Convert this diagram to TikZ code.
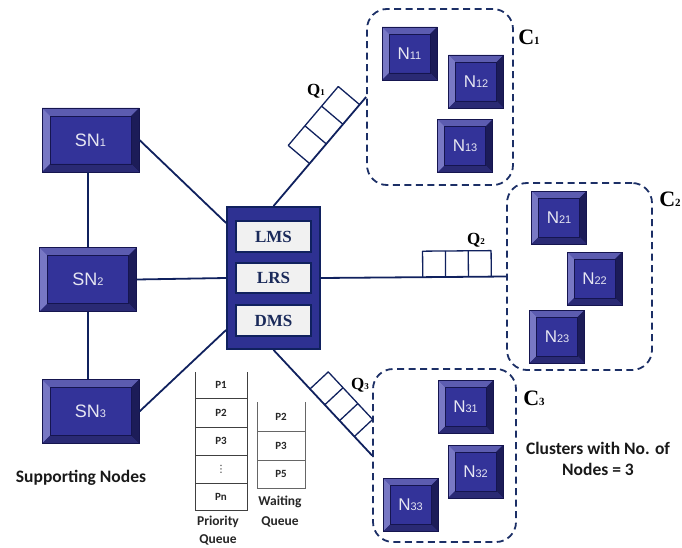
\documentclass[tikz,border=0pt]{standalone}
\usepackage{fontspec}
\setmainfont{Liberation Serif}
\newfontfamily\arialf{Liberation Sans}
\newfontfamily\calibf{Carlito}
\newfontfamily\dejavuf{DejaVu Sans}
\usetikzlibrary{calc}
\definecolor{bevF}{HTML}{333399}
\definecolor{bevO}{HTML}{15154F}
\definecolor{bevT}{HTML}{5C5CB0}
\definecolor{bevL}{HTML}{7878C4}
\definecolor{bevR}{HTML}{1C1C58}
\definecolor{bevB}{HTML}{2A2A74}
\definecolor{bevTx}{HTML}{E6E6F2}
\definecolor{navyL}{HTML}{10215E}
\definecolor{dashC}{HTML}{1C2F66}
\definecolor{lmF}{HTML}{2E3192}
\definecolor{boxF}{HTML}{F1F1F1}
\definecolor{txtN}{HTML}{1A2A5A}
\newcommand\sdig[1]{{\fontsize{11}{12}\selectfont #1}}
\newcommand\qstrip[5]{%
  \coordinate (qs0) at ($(#1)!#3!(#2)$);
  \coordinate (qs1) at ($(#1)!#4!(#2)$);
  \draw[qline] (qs0) -- ($(qs0)!#5!90:(qs1)$) -- ($(qs1)!#5!-90:(qs0)$) -- (qs1);
  \foreach \f in {0.3333,0.6667} {
    \coordinate (qsm) at ($(qs0)!\f!(qs1)$);
    \draw[qline] (qsm) -- ($(qsm)!#5!90:(qs1)$);
  }%
}
\begin{document}
\begin{tikzpicture}[x=1pt,y=-1pt,
  bevw/.store in=\bevw, bevw=7pt,
  bevbox/.style={draw=bevO, line width=0.9pt, fill=bevF, text=bevTx, inner sep=0pt,
    font=\arialf\fontsize{17}{19}\selectfont,
    path picture={
      \coordinate (pnw) at (path picture bounding box.north west);
      \coordinate (pne) at (path picture bounding box.north east);
      \coordinate (psw) at (path picture bounding box.south west);
      \coordinate (pse) at (path picture bounding box.south east);
      \fill[bevT] (pnw) -- (pne) -- ([shift={(-\bevw,-\bevw)}]pne) -- ([shift={(\bevw,-\bevw)}]pnw) -- cycle;
      \fill[bevL] (pnw) -- (psw) -- ([shift={(\bevw,\bevw)}]psw) -- ([shift={(\bevw,-\bevw)}]pnw) -- cycle;
      \fill[bevR] (pne) -- (pse) -- ([shift={(-\bevw,\bevw)}]pse) -- ([shift={(-\bevw,-\bevw)}]pne) -- cycle;
      \fill[bevB] (psw) -- (pse) -- ([shift={(-\bevw,\bevw)}]pse) -- ([shift={(\bevw,\bevw)}]psw) -- cycle;
      \draw[bevO, line width=0.5pt] ([shift={(\bevw,-\bevw)}]pnw) rectangle ([shift={(-\bevw,\bevw)}]pse);
    }},
  snbox/.style={bevbox, bevw=8pt, minimum width=97pt, minimum height=64pt, font=\arialf\fontsize{18}{20}\selectfont},
  nbox/.style={bevbox, minimum width=55pt, minimum height=53pt},
  cluster/.style={draw=dashC, line width=1.8pt, dash pattern=on 7pt off 4.5pt, rounded corners=20pt, inner sep=0pt},
  conn/.style={draw=navyL, line width=1.8pt},
  thinconn/.style={draw=navyL, line width=1.2pt},
  qline/.style={draw=navyL, line width=1.3pt, line join=round},
  inbox/.style={draw=navyL, line width=1.2pt, fill=boxF, minimum width=75pt, minimum height=31pt, inner sep=0pt, text=txtN, font=\bfseries\fontsize{17}{18}\selectfont},
  qlab/.style={inner sep=0pt, font=\bfseries\fontsize{17}{18}\selectfont},
  clab/.style={inner sep=0pt, font=\bfseries\fontsize{22}{24}\selectfont},
  cbtext/.style={inner sep=0pt, font=\calibf\bfseries\fontsize{17.5}{20}\selectfont, text=black!90},
  qtext/.style={inner sep=0pt, font=\calibf\bfseries\fontsize{13.5}{16}\selectfont, text=black!85},
  ptext/.style={inner sep=0pt, font=\calibf\bfseries\fontsize{11}{12}\selectfont, text=black!85},
  pq/.style={draw=black!75, line width=1pt},
  wq/.style={draw=black!60, line width=1pt}
]
\useasboundingbox (0,0) rectangle (682,548);

% central box
\node[draw=navyL, line width=1.8pt, fill=lmF, minimum width=93pt, minimum height=142pt, inner sep=0pt] (lm) at (273.5,278) {};
\node[inbox] (lms) at (273.5,236.5) {LMS};
\node[inbox, minimum height=30pt] (lrs) at (273.5,278) {LRS};
\node[inbox] (dms) at (273.5,320.5) {DMS};

% supporting nodes
\node[snbox] (sn1) at (90.5,140) {SN\sdig{1}};
\node[snbox] (sn2) at (88,279.5) {SN\sdig{2}};
\node[snbox] (sn3) at (90.5,411.5) {SN\sdig{3}};
\node[cbtext] (supp) at (81,478) {Supporting Nodes};

% clusters
\node[cluster, minimum width=146pt, minimum height=176pt] (c1) at (440,97) {};
\node[cluster, minimum width=145pt, minimum height=187pt] (c2) at (579.5,276.5) {};
\node[cluster, minimum width=143pt, minimum height=173pt] (c3) at (444.5,455.5) {};

\node[nbox] (n11) at (409.5,53.5) {N\sdig{11}};
\node[nbox] (n12) at (476,81.5) {N\sdig{12}};
\node[nbox] (n13) at (465,146) {N\sdig{13}};
\node[nbox] (n21) at (559,217.5) {N\sdig{21}};
\node[nbox] (n22) at (594.5,278.5) {N\sdig{22}};
\node[nbox] (n23) at (557,336.5) {N\sdig{23}};
\node[nbox] (n31) at (465.5,407) {N\sdig{31}};
\node[nbox] (n32) at (475.5,471.5) {N\sdig{32}};
\node[nbox] (n33) at (410.5,505) {N\sdig{33}};

\node[clab] (c1l) at (529,37) {C{\fontsize{11}{12}\selectfont 1}};
\node[clab] (c2l) at (670,199) {C{\fontsize{11}{12}\selectfont 2}};
\node[clab] (c3l) at (534,398) {C{\fontsize{11}{12}\selectfont 3}};

\node[cbtext, align=center] (cltext) at (598,459) {Clusters with No. of\\[1pt]Nodes = 3};

% connectors
\draw[conn] (sn1.east) -- ([yshift=55pt]lm.west);
\draw[conn] (sn2.east) -- (lm.west);
\draw[conn] (sn3.east) -- ([yshift=-52pt]lm.west);
\draw[thinconn] (sn1.south -| sn2.north) -- (sn2.north);
\draw[conn] (sn2.south) -- (sn3.north -| sn2.south);
\draw[conn] (lm.north) -- (c1.west);
\draw[conn] (lm.east) -- (c2.west);
\draw[conn] (lm.south) -- (c3.west);

% queues on links
\qstrip{lm.north}{c1.west}{0.39}{0.93}{28pt}
\qstrip{lm.east}{c2.west}{0.55}{0.92}{26pt}
\qstrip{lm.south}{c3.west}{0.37}{0.82}{25pt}

\node[qlab] (q1) at (316,91) {Q{\fontsize{9}{10}\selectfont 1}};
\node[qlab] (q2) at (476,240) {Q{\fontsize{9}{10}\selectfont 2}};
\node[qlab] (q3) at (360,385) {Q{\fontsize{9}{10}\selectfont 3}};

% priority queue
\draw[pq] (195,372) -- (195,510) -- (247,510) -- (247,372);
\foreach \yy in {398,427,455,483} \draw[pq] (195,\yy) -- (247,\yy);
\node[ptext] (p1) at (221,385) {P1};
\node[ptext] (p2) at (221,412.5) {P2};
\node[ptext] (p3) at (221,441) {P3};
\node[ptext, font=\dejavuf\fontsize{10}{10}\selectfont] (pd) at (221,469) {⋮};
\node[ptext] (pn) at (221,497) {Pn};
\node[qtext] (prio) at (218,522) {Priority};
\node[qtext] (prioq) at (218,540) {Queue};

% waiting queue
\draw[wq] (257,402) -- (257,488) -- (305,488) -- (305,402);
\foreach \yy in {431,460} \draw[wq] (257,\yy) -- (305,\yy);
\node[ptext] (w2) at (281,416.5) {P2};
\node[ptext] (w3) at (281,445.5) {P3};
\node[ptext] (w5) at (281,474) {P5};
\node[qtext] (wait) at (280,502) {Waiting};
\node[qtext] (waitq) at (280,522) {Queue};
\end{tikzpicture}
\end{document}
